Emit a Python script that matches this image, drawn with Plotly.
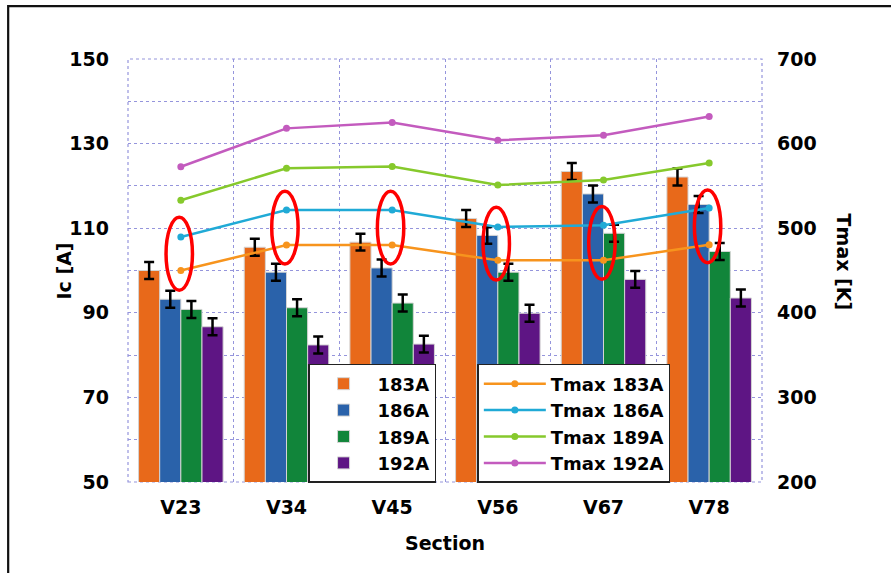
import plotly.graph_objects as go

# Sections along the conductor
sections = ["V23", "V34", "V45", "V56", "V67", "V78"]

# Critical current per section for each transport current level [A]
ic_183 = [100.0, 105.5, 106.7, 112.3, 123.4, 122.1]
ic_186 = [93.2, 99.6, 100.6, 108.3, 118.1, 115.6]
ic_189 = [90.8, 91.2, 92.3, 99.6, 108.8, 104.5]
ic_192 = [86.7, 82.4, 82.6, 89.9, 97.9, 93.5]
ic_err = [2.0, 2.0, 2.0, 2.0, 2.0, 2.0]

# Peak temperature per section [K]
tmax_183 = [450, 480, 480, 462, 462, 480.5]
tmax_186 = [489.6, 521.5, 521.5, 501.4, 503.4, 524]
tmax_189 = [533, 570.8, 573, 551, 557, 577]
tmax_192 = [572.7, 618, 625, 604, 610, 632]

bar_names = ["183A", "186A", "189A", "192A"]
bar_colors = ["#E8691A", "#2A62AA", "#11853A", "#5E1584"]
line_names = ["Tmax 183A", "Tmax 186A", "Tmax 189A", "Tmax 192A"]
line_colors = ["#F7941D", "#20AAD6", "#86C92C", "#C35BBE"]

FONT = "DejaVu Sans, Arial, sans-serif"
GRID = "#9595DC"


def bold(size):
    return dict(family=FONT, size=size, color="black", weight="bold")


fig = go.Figure()

for name, vals, col in zip(bar_names, [ic_183, ic_186, ic_189, ic_192], bar_colors):
    fig.add_trace(go.Bar(
        x=sections, y=vals, name=name,
        marker=dict(color=col, line=dict(color="#D4D4D4", width=1)),
        error_y=dict(type="data", array=ic_err, color="black", thickness=2.5, width=5),
        legend="legend",
    ))

for name, vals, col in zip(line_names, [tmax_183, tmax_186, tmax_189, tmax_192], line_colors):
    fig.add_trace(go.Scatter(
        x=sections, y=vals, name=name, yaxis="y2",
        mode="lines+markers",
        line=dict(color=col, width=2.5),
        marker=dict(color=col, size=7),
        legend="legend2",
    ))

# Red ellipses highlighting the 183A / 186A temperature pairs
shapes = []
for i, (a, b) in enumerate(zip(tmax_183, tmax_186)):
    mid = (a + b) / 2
    shapes.append(dict(
        type="circle", xref="x", yref="y2",
        x0=i - 0.14, x1=i + 0.11, y0=mid - 43, y1=mid + 43,
        line=dict(color="#FF0000", width=3.5),
        layer="above",
    ))

# Dotted frame around the plotting area
shapes.append(dict(type="rect", xref="paper", yref="paper", x0=0, x1=1, y0=0, y1=1,
                   line=dict(color=GRID, width=1.2, dash="dot"), layer="below"))
# Outer frame of the figure
shapes.append(dict(type="rect", xref="paper", yref="paper",
                   x0=-0.189, x1=1.3, y0=-0.25, y1=1.125,
                   line=dict(color="#111111", width=2.2), layer="above"))

legend_style = dict(
    bgcolor="white", bordercolor="#222222", borderwidth=1.5,
    font=bold(18),
    xanchor="left", yanchor="top", tracegroupgap=0,
)

fig.update_layout(
    width=891, height=573,
    margin=dict(l=128, r=129, t=59, b=91),
    paper_bgcolor="white", plot_bgcolor="white",
    barmode="group", bargap=0.2, bargroupgap=0,
    font=dict(family=FONT, size=18, color="black"),
    xaxis=dict(
        type="category", tickson="boundaries",
        showgrid=True, gridcolor=GRID, griddash="dot", gridwidth=1,
        ticks="", ticklabelstandoff=12,
        tickfont=bold(19),
        zeroline=False,
    ),
    yaxis=dict(
        range=[50, 150], dtick=20, tick0=50,
        showgrid=True, gridcolor=GRID, griddash="dot", gridwidth=1,
        minor=dict(dtick=10, showgrid=True, gridcolor=GRID, griddash="dot", gridwidth=1),
        ticks="", ticklabelstandoff=18,
        tickfont=bold(19),
        zeroline=False,
    ),
    yaxis2=dict(
        range=[200, 700], dtick=100, overlaying="y", side="right",
        showgrid=False, ticks="", ticklabelstandoff=14,
        tickfont=bold(19),
        zeroline=False,
    ),
    legend=dict(x=0.284, y=0.279, itemwidth=58, **legend_style),
    legend2=dict(x=0.551, y=0.279, itemwidth=62, **legend_style),
    shapes=shapes,
    annotations=[
        dict(text="Ic [A]", xref="paper", yref="paper", x=-0.101, y=0.5,
             xanchor="center", yanchor="middle",
             textangle=-90, showarrow=False, font=bold(19)),
        dict(text="Tmax [K]", xref="paper", yref="paper", x=1.13, y=0.52,
             xanchor="center", yanchor="middle",
             textangle=90, showarrow=False, font=bold(19)),
        dict(text="Section", xref="paper", yref="paper", x=0.5, y=-0.145,
             xanchor="center", yanchor="middle",
             showarrow=False, font=bold(19)),
    ],
    showlegend=True,
)

fig.write_html("out.html")
